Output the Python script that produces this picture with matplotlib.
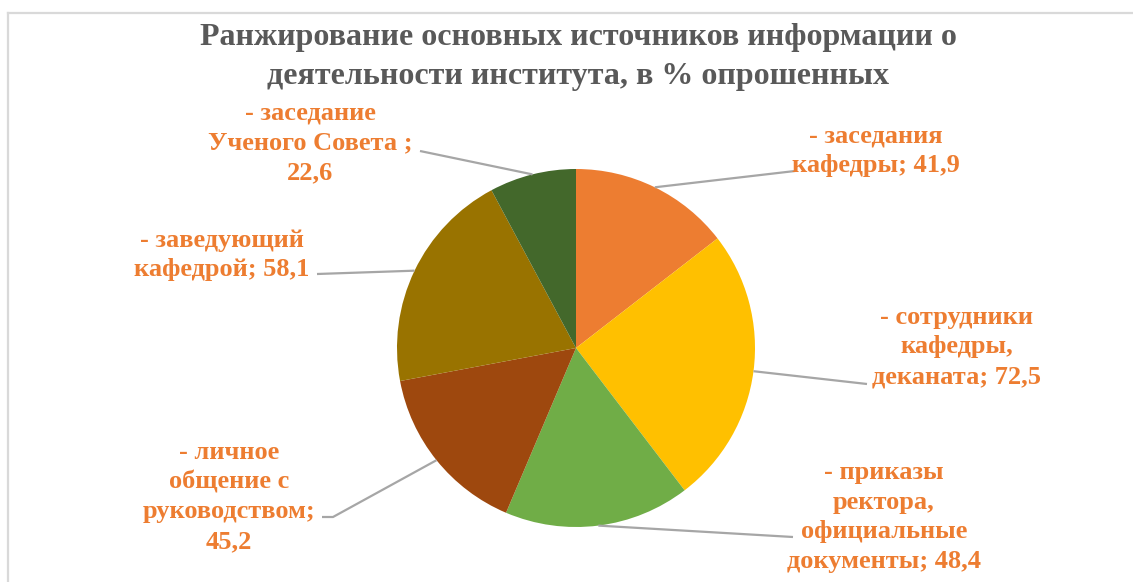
import numpy as np
import matplotlib.pyplot as plt
from matplotlib.lines import Line2D

title = "Ранжирование основных источников информации о\nдеятельности института, в % опрошенных"
labels = [
    "- заседания\nкафедры; 41,9",
    "- сотрудники\nкафедры,\nдеканата; 72,5",
    "- приказы\nректора,\nофициальные\nдокументы; 48,4",
    "- личное\nобщение с\nруководством;\n45,2",
    "- заведующий\nкафедрой; 58,1",
    "- заседание\nУченого Совета ;\n22,6",
]
values = [41.9, 72.5, 48.4, 45.2, 58.1, 22.6]
colors = ["#ED7D31", "#FFC000", "#70AD47", "#9E480E", "#997300", "#43682B"]

W, H = 1133, 582
# label text centers and leader knee points (pixel coords, y from top)
label_pos = [(876, 151), (957, 347), (884, 517), (229, 497), (222, 255), (310, 143)]
knees = [(795, 171), (867, 384), (793, 537), (333, 517), (317, 274), (420, 151)]
ends = [(795, 171), (867, 384), (793, 537), (322, 517), (317, 274), (420, 151)]

fig = plt.figure(figsize=(W / 100, H / 100), dpi=100)
ax = fig.add_axes([0, 0, 1, 1])

cx, cy, r = 576, H - 348, 179
wedges, _ = ax.pie(values, colors=colors, startangle=90, counterclock=False,
                   center=(cx, cy), radius=r, frame=True)
ax.set_xlim(0, W)
ax.set_ylim(0, H)
ax.set_aspect("equal")
ax.axis("off")

gray = "#A6A6A6"
for w, lab, pos, kn, en in zip(wedges, labels, label_pos, knees, ends):
    mid = np.deg2rad((w.theta1 + w.theta2) / 2)
    sx, sy = cx + r * np.cos(mid), cy + r * np.sin(mid)
    ax.plot([sx, kn[0], en[0]], [sy, H - kn[1], H - en[1]], color=gray, lw=1.6,
            solid_capstyle="butt", zorder=1)
    ax.text(pos[0], H - pos[1], lab, ha="center", va="center", fontsize=19,
            fontweight="bold", family="Liberation Serif", color="#ED7D31",
            linespacing=1.38)

ax.text(578, H - 57, title, ha="center", va="center", fontsize=23,
        fontweight="bold", family="Liberation Serif", color="#595959",
        linespacing=1.45)

# chart frame (top and left edges visible)
fig.add_artist(Line2D([8 / W, 1], [1 - 12.5 / H, 1 - 12.5 / H], color="#D9D9D9", lw=1.6))
fig.add_artist(Line2D([8 / W, 8 / W], [0, 1 - 12.5 / H], color="#D9D9D9", lw=1.6))

fig.savefig("out.png", dpi=100)
